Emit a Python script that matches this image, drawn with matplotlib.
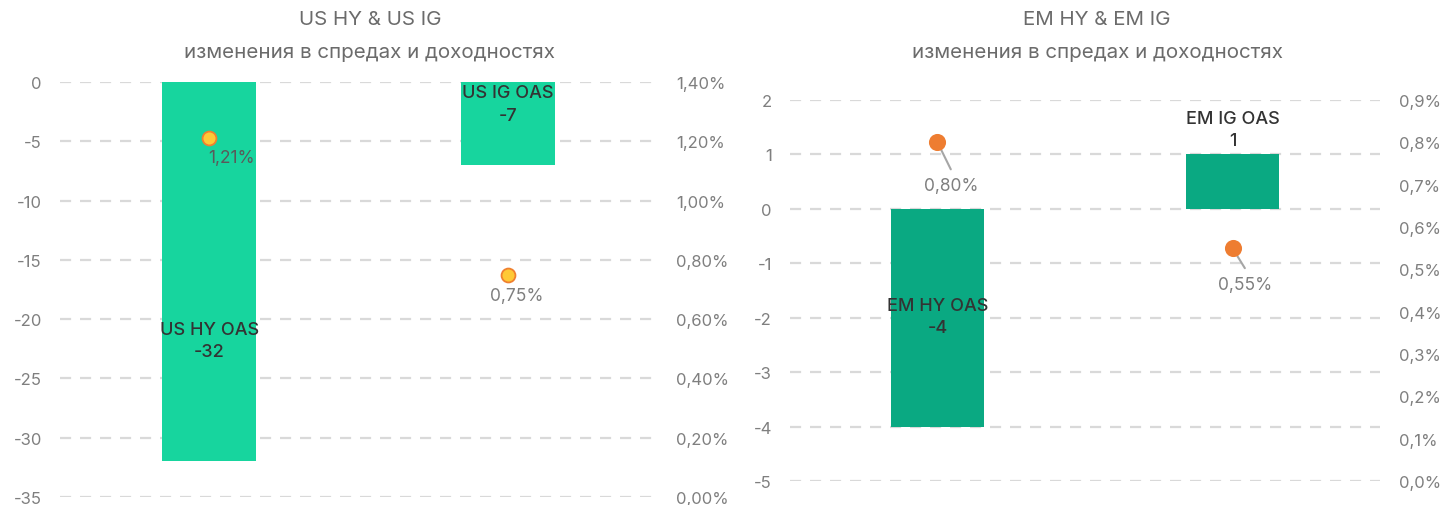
import matplotlib
matplotlib.use("Agg")
import matplotlib.pyplot as plt
from matplotlib.ticker import FuncFormatter

plt.rcParams['font.family'] = ['Inter', 'DejaVu Sans']

# ---- data ----
us_categories = ['US HY OAS', 'US IG OAS']
us_spread_change = [-32, -7]
us_yield = [1.21, 0.75]

em_categories = ['EM HY OAS', 'EM IG OAS']
em_spread_change = [-4, 1]
em_yield = [0.80, 0.55]

us_title = 'US HY & US IG'
em_title = 'EM HY & EM IG'
subtitle = 'изменения в спредах и доходностях'

us_left_ticks = [0, -5, -10, -15, -20, -25, -30, -35]
us_right_ticks = [0.0, 0.2, 0.4, 0.6, 0.8, 1.0, 1.2, 1.4]
em_left_ticks = [2, 1, 0, -1, -2, -3, -4, -5]
em_right_ticks = [0.0, 0.1, 0.2, 0.3, 0.4, 0.5, 0.6, 0.7, 0.8, 0.9]

W, H = 1446, 506
fig = plt.figure(figsize=(W / 100, H / 100), dpi=100)

PX = 0.72  # points per pixel
TICK_C = '#7f7f7f'
TITLE_C = '#6b6b6b'
LABEL_C = '#333333'
GRID_C = '#d9d9d9'


def px_axes(x0, x1, ytop, ybot):
    return fig.add_axes([x0 / W, 1 - ybot / H, (x1 - x0) / W, (ybot - ytop) / H])


def style(ax, ax2, lticks, rticks, rfmt):
    for a in (ax, ax2):
        for s in a.spines.values():
            s.set_visible(False)
        a.tick_params(length=0, labelsize=12, labelcolor=TICK_C, pad=13)
    ax2.tick_params(pad=14)
    ax.set_yticks(lticks)
    ax.set_yticklabels([str(t) for t in lticks])
    ax2.set_yticks(rticks)
    ax2.yaxis.set_major_formatter(FuncFormatter(rfmt))
    ax.set_xticks([])
    ax.yaxis.grid(True, color=GRID_C, linewidth=1.6, dashes=(5, 4))
    ax.set_axisbelow(True)


def draw(ax, ax2, cats, spreads, yields, bar_color, label_off, yld_off,
         marker_face, marker_edge, msize, leader, yld_colors):
    x = list(range(len(cats)))
    ax.bar(x, spreads, width=0.315, color=bar_color, zorder=2)
    for i, (c, v) in enumerate(zip(cats, spreads)):
        ax.annotate(f'{c}\n{v}', xy=(i, v), xytext=(0, label_off[i] * PX),
                    textcoords='offset points', ha='center', va='center',
                    fontsize=13, color=LABEL_C, linespacing=1.4, zorder=5,
                    fontweight='medium')
    ax2.plot(x, yields, linestyle='none', marker='o', markersize=msize,
             markerfacecolor=marker_face, markeredgecolor=marker_edge,
             markeredgewidth=1.3, zorder=6)
    for i, y in enumerate(yields):
        dx, dy = yld_off[i]
        txt = f'{y:.2f}'.replace('.', ',') + '%'
        ax2.annotate(txt, xy=(i, y), xytext=(dx * PX, dy * PX),
                     textcoords='offset points', ha='center', va='center',
                     fontsize=12.5, color=yld_colors[i], zorder=5)
        if leader:
            ax2.annotate('', xy=(i, y), xytext=(dx * PX * 0.95, (dy + 16) * PX),
                         textcoords='offset points',
                         arrowprops=dict(arrowstyle='-', color='#a6a6a6', lw=1.5,
                                         shrinkA=0, shrinkB=0), zorder=4)


# ---- left chart ----
axL = px_axes(60, 657, 83, 498)
axL2 = axL.twinx()
axL.set_xlim(-0.5, 1.5)
axL.set_ylim(-35, 0)
axL2.set_ylim(0, 1.4)
style(axL, axL2, us_left_ticks, us_right_ticks,
      lambda v, p: f'{v:.2f}'.replace('.', ',') + '%')
draw(axL, axL2, us_categories, us_spread_change, us_yield, '#17d59e',
     [121, 61], [(22, -19), (9, -21)], '#ffc936', '#f0802f', 10, False,
     ['#5a5a5a', TICK_C])

# ---- right chart ----
axR = px_axes(790, 1380, 101, 482)
axR2 = axR.twinx()
axR.set_xlim(-0.5, 1.5)
axR.set_ylim(-5, 2)
axR2.set_ylim(0, 0.9)
style(axR, axR2, em_left_ticks, em_right_ticks,
      lambda v, p: f'{v:.1f}'.replace('.', ',') + '%')
draw(axR, axR2, em_categories, em_spread_change, em_yield, '#0aa982',
     [110, 25], [(14, -43), (13, -36)], '#ee7d31', '#ee7d31', 11, True,
     [TICK_C, TICK_C])

# ---- titles ----
for cx, t in ((370, us_title), (1097, em_title)):
    fig.text(cx / W, 1 - 20 / H, t, ha='center', va='center', fontsize=14.8,
             color=TITLE_C)
    fig.text(cx / W, 1 - 53 / H, subtitle, ha='center', va='center',
             fontsize=14.8, color=TITLE_C)

fig.savefig('out.png', dpi=100)
